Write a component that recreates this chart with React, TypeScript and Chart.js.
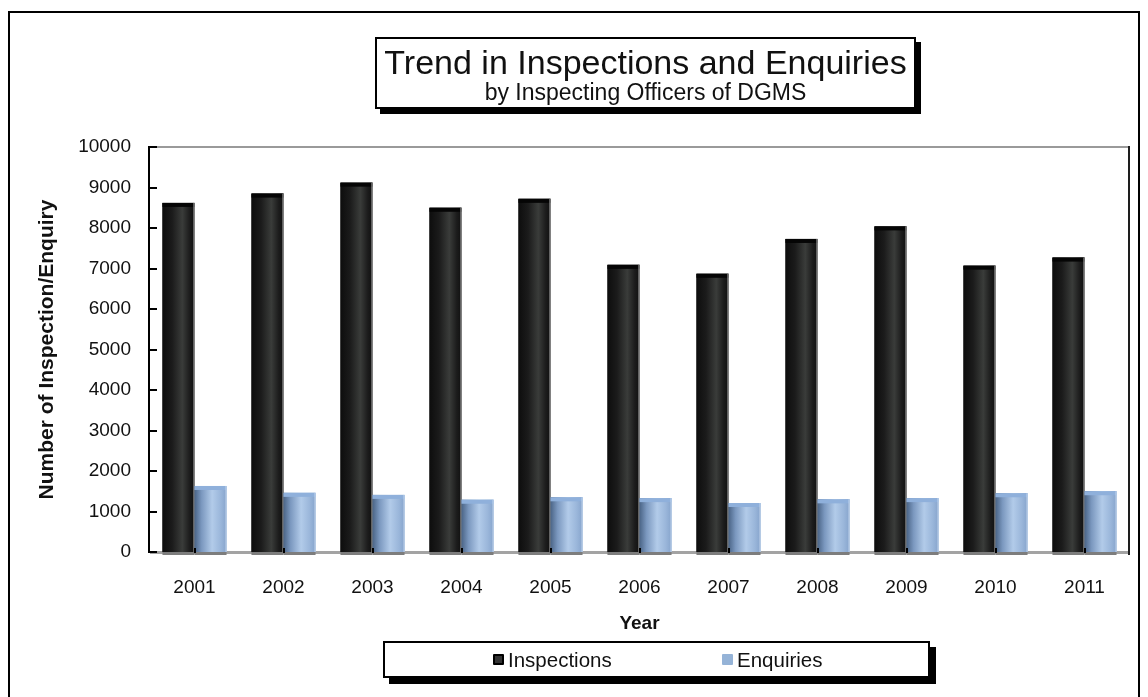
import React, { useEffect, useRef } from "react";
import { Chart, registerables } from "chart.js";

Chart.register(...registerables);

const years = ["2001", "2002", "2003", "2004", "2005", "2006", "2007", "2008", "2009", "2010", "2011"];
const inspections = [8620, 8850, 9120, 8500, 8720, 7090, 6870, 7730, 8040, 7070, 7270];
const enquiries = [1630, 1460, 1410, 1290, 1350, 1330, 1210, 1300, 1330, 1450, 1500];
const seriesNames = ["Inspections", "Enquiries"];
const yMin = 0;
const yMax = 10000;
const yStep = 1000;
const chartTitle = "Trend in Inspections and Enquiries";
const chartSubtitle = "by Inspecting Officers of DGMS";
const yAxisTitle = "Number of Inspection/Enquiry";
const xAxisTitle = "Year";

const FONT = "'Liberation Sans', Arial, Helvetica, sans-serif";

const barLook = [
  {
    stops: [
      [0, "#0d0d0d"],
      [0.3, "#1b1b1b"],
      [0.62, "#3a3c3a"],
      [0.85, "#1c1c1c"],
      [1, "#101010"],
    ],
    cap: "#050505",
    edge: "#b5b5b5",
  },
  {
    stops: [
      [0, "#4a6486"],
      [0.22, "#7b98bf"],
      [0.55, "#b2cbe9"],
      [0.82, "#9ab6da"],
      [1, "#86a4cc"],
    ],
    cap: "#8fb0db",
    edge: "#c5d7ee",
  },
];

const decoPlugin = {
  id: "deco",
  beforeDatasetsDraw(chart: any) {
    const { ctx, chartArea: a } = chart;
    ctx.save();
    ctx.fillStyle = "#a3a3a3";
    ctx.fillRect(a.left, a.bottom - 1, a.right - a.left, 3);
    ctx.restore();
  },
  afterDatasetsDraw(chart: any) {
    const ctx = chart.ctx;
    ctx.save();
    chart.data.datasets.forEach((_ds: any, di: number) => {
      const meta = chart.getDatasetMeta(di);
      const look = barLook[di];
      meta.data.forEach((el: any) => {
        const { x, y, base, width } = el.getProps(["x", "y", "base", "width"], true);
        const l = x - width / 2;
        const h = base - y;
        const g = ctx.createLinearGradient(l, 0, l + width, 0);
        look.stops.forEach(([o, c]: any) => g.addColorStop(o, c));
        ctx.fillStyle = g;
        ctx.fillRect(l, y, width, h);
        ctx.fillStyle = look.cap;
        ctx.fillRect(l, y, width, 4);
        ctx.strokeStyle = look.edge;
        ctx.lineWidth = 1;
        ctx.beginPath();
        ctx.moveTo(l + width - 0.5, y);
        ctx.lineTo(l + width - 0.5, base);
        ctx.stroke();
        ctx.fillStyle = "#7d7d7d";
        ctx.fillRect(l, base, width, 3);
      });
    });
    ctx.restore();
  },
  afterDraw(chart: any) {
    const { ctx, chartArea: a } = chart;
    const ys = chart.scales.y;
    const xs = chart.scales.x;
    ctx.save();
    ctx.fillStyle = "#9a9a9a";
    ctx.fillRect(a.left, a.top - 1, a.right - a.left, 2);
    ctx.fillStyle = "#1e1e1e";
    ctx.fillRect(a.right - 1, a.top - 1, 2, a.bottom - a.top + 4);
    ctx.fillStyle = "#000";
    ctx.fillRect(a.left - 2, a.top - 1, 2, a.bottom - a.top + 2);
    ys.ticks.forEach((t: any) => {
      const py = Math.round(ys.getPixelForValue(t.value));
      ctx.fillRect(a.left, py - 1, 7, 2);
    });
    years.forEach((_y, i) => {
      const px = Math.round(xs.getPixelForValue(i));
      ctx.fillRect(px - 1, a.bottom - 4, 2, 5);
    });
    ctx.restore();
  },
};

export default function App() {
  const ref = useRef<HTMLCanvasElement | null>(null);

  useEffect(() => {
    document.documentElement.style.overflow = "hidden";
    if (!ref.current) return;
    const chart = new Chart(ref.current, {
      type: "bar",
      data: {
        labels: years,
        datasets: [
          { label: seriesNames[0], data: inspections, backgroundColor: "#1a1a1a", borderWidth: 0 },
          { label: seriesNames[1], data: enquiries, backgroundColor: "#95b3d7", borderWidth: 0 },
        ],
      },
      options: {
        animation: false,
        responsive: false,
        devicePixelRatio: 1,
        layout: { padding: { top: 139, right: 11, left: 0, bottom: 0 } },
        plugins: {
          legend: { display: false },
          title: { display: false },
          tooltip: { enabled: false },
        },
        datasets: {
          bar: { categoryPercentage: 0.72, barPercentage: 1.0 },
        },
        scales: {
          x: {
            grid: { display: false, drawTicks: false },
            border: { display: false },
            ticks: {
              color: "#111",
              padding: 24,
              font: { family: FONT, size: 19 },
              maxRotation: 0,
            },
            title: {
              display: true,
              text: xAxisTitle,
              color: "#111",
              font: { family: FONT, size: 19, weight: "bold" },
              padding: { top: 0, bottom: 62 },
            },
            afterFit(scale: any) {
              scale.height = 145;
            },
          },
          y: {
            min: yMin,
            max: yMax,
            grid: { display: false, drawTicks: false },
            border: { display: false },
            ticks: {
              stepSize: yStep,
              color: "#111",
              padding: 19,
              font: { family: FONT, size: 19 },
              callback: (v: any) => String(v),
            },
            title: {
              display: true,
              text: yAxisTitle,
              color: "#111",
              font: { family: FONT, size: 21, weight: "bold" },
              padding: { top: 27, bottom: 0 },
            },
            afterFit(scale: any) {
              scale.width = 142;
            },
          },
        },
      },
      plugins: [decoPlugin],
    } as any);
    return () => chart.destroy();
  }, []);

  const swatch = (bg: string, bordered?: boolean) => (
    <span
      style={{
        display: "inline-block",
        width: 11,
        height: 11,
        background: bg,
        border: bordered ? "2px solid #000" : "none",
        boxSizing: "border-box",
        borderRadius: 1,
      }}
    />
  );

  return (
    <div style={{ position: "relative", width: 1132, height: 689, overflow: "hidden", fontFamily: FONT, color: "#111" }}>
      <div
        style={{
          position: "absolute",
          left: 0,
          top: 3,
          width: 1132,
          height: 800,
          border: "2px solid #000",
          boxSizing: "border-box",
        }}
      />
      <canvas ref={ref} width={1132} height={689} style={{ position: "absolute", left: 0, top: 0 }} />
      <div
        style={{
          position: "absolute",
          left: 367,
          top: 29,
          width: 541,
          height: 72,
          border: "2px solid #000",
          boxSizing: "border-box",
          background: "#fff",
          boxShadow: "5px 5px 0 #000",
          textAlign: "center",
        }}
      >
        <div style={{ fontSize: 34, lineHeight: "36px", marginTop: 5, whiteSpace: "nowrap" }}>{chartTitle}</div>
        <div style={{ fontSize: 23, lineHeight: "25px", whiteSpace: "nowrap" }}>{chartSubtitle}</div>
      </div>
      <div
        style={{
          position: "absolute",
          left: 375,
          top: 633,
          width: 547,
          height: 37,
          border: "2px solid #000",
          boxSizing: "border-box",
          background: "#fff",
          boxShadow: "6px 6px 0 #000",
        }}
      >
        <div style={{ position: "absolute", left: 108, top: 0, height: 33, display: "flex", alignItems: "center", gap: 4 }}>
          {swatch("#333", true)}
          <span style={{ fontSize: 20.5 }}>{seriesNames[0]}</span>
        </div>
        <div style={{ position: "absolute", left: 337, top: 0, height: 33, display: "flex", alignItems: "center", gap: 4 }}>
          {swatch("#95b3d7")}
          <span style={{ fontSize: 20.5 }}>{seriesNames[1]}</span>
        </div>
      </div>
    </div>
  );
}
